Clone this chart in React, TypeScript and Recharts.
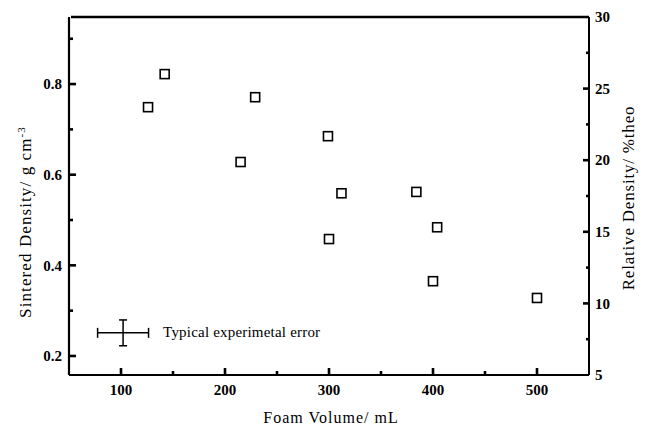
import React from 'react';
import { ScatterChart, Scatter, XAxis, YAxis, ErrorBar } from 'recharts';

const foamVolume = [126, 142, 215, 229, 299, 300, 312, 384, 404, 400, 500];
const sinteredDensity = [0.749, 0.822, 0.628, 0.771, 0.685, 0.458, 0.559, 0.562, 0.484, 0.365, 0.328];

const errorX = [102];
const errorY = [0.251];
const errorHalfX = [24.5];
const errorHalfY = [0.0285];
const errorText = 'Typical experimetal error';

const xTicks = [100, 150, 200, 250, 300, 350, 400, 450, 500];
const xMajor = [100, 200, 300, 400, 500];
const leftTicks = [0.2, 0.3, 0.4, 0.5, 0.6, 0.7, 0.8, 0.9];
const leftMajor = [0.2, 0.4, 0.6, 0.8];
const rightTicks = [5, 7.5, 10, 12.5, 15, 17.5, 20, 22.5, 25, 27.5, 30];
const rightMajor = [5, 10, 15, 20, 25, 30];

const xDomain = [50, 550];
const leftDomain = [0.158, 0.948];
const rightDomain = [5, 30];

const data = foamVolume.map((v, i) => ({ x: v, y: sinteredDensity[i] }));
const errData = errorX.map((v, i) => ({ x: v, y: errorY[i], ex: errorHalfX[i], ey: errorHalfY[i] }));

const FONT = '"Liberation Serif", "Times New Roman", serif';
const TM = 7;
const TW = 2.6;
const PLOT_W = 518;

const BottomTick = (p: any) => {
  const { x, y, payload } = p;
  const major = xMajor.includes(payload.value);
  const ay = y - TM;
  return (
    <g>
      <line x1={x} x2={x} y1={ay} y2={ay - (major ? 7 : 4)} stroke="#000" strokeWidth={TW} />
      {major && (
        <text x={x} y={ay + 20} textAnchor="middle" fontFamily={FONT} fontSize={15} fontWeight="bold" fill="#000">
          {payload.value}
        </text>
      )}
    </g>
  );
};

const LeftTick = (p: any) => {
  const { x, y, payload } = p;
  const major = leftMajor.some((m) => Math.abs(m - payload.value) < 1e-9);
  const ax = x + TM;
  return (
    <g>
      <line x1={ax} x2={ax + (major ? 7 : 4)} y1={y} y2={y} stroke="#000" strokeWidth={TW} />
      {major && (
        <text x={x} y={y} dy="0.35em" textAnchor="end" fontFamily={FONT} fontSize={15} fontWeight="bold" fill="#000">
          {payload.value.toFixed(1)}
        </text>
      )}
    </g>
  );
};

const RightTick = (p: any) => {
  const { x, y, payload } = p;
  const major = rightMajor.includes(payload.value);
  const ax = x - TM;
  return (
    <g>
      {payload.value !== 5 && payload.value !== 30 && (
        <line x1={ax} x2={ax - (major ? 6 : 3)} y1={y} y2={y} stroke="#000" strokeWidth={TW} />
      )}
      {payload.value === 30 && (
        <line x1={ax} x2={ax - PLOT_W} y1={y} y2={y} stroke="#000" strokeWidth={2.6} />
      )}
      {major && (
        <text x={ax + 6} y={y} dy="0.35em" textAnchor="start" fontFamily={FONT} fontSize={15} fontWeight="bold" fill="#000">
          {payload.value}
        </text>
      )}
    </g>
  );
};

const SquareShape = (p: any) => {
  const { cx, cy } = p;
  if (cx == null || cy == null) return <g />;
  return <rect x={cx - 4.5} y={cy - 4.5} width={9} height={9} fill="#fff" stroke="#000" strokeWidth={1.6} />;
};

const ErrShape = (p: any) => {
  const { cx, cy } = p;
  if (cx == null || cy == null) return <g />;
  return (
    <text x={cx + 40} y={cy + 4.5} fontFamily={FONT} fontSize={15} letterSpacing={0.2} fill="#000">
      {errorText}
    </text>
  );
};

const XLabel = (p: any) => {
  const vb = p.viewBox || {};
  return (
    <text x={vb.x + vb.width / 2 + 2} y={vb.y + 48} textAnchor="middle" fontFamily={FONT} fontSize={16} letterSpacing={1} fill="#000">
      Foam Volume/ mL
    </text>
  );
};

const LeftLabel = (p: any) => {
  const vb = p.viewBox || {};
  const cx = vb.x + 22;
  const cy = vb.y + vb.height / 2 + 26;
  return (
    <text x={cx} y={cy} transform={`rotate(-90 ${cx} ${cy})`} textAnchor="middle" fontFamily={FONT} fontSize={17} letterSpacing={1.1} fill="#000">
      Sintered Density/ g cm<tspan dy={-6} fontSize={11}>-3</tspan>
    </text>
  );
};

const RightLabel = (p: any) => {
  const vb = p.viewBox || {};
  const cx = vb.x + 45;
  const cy = vb.y + vb.height / 2 + 2;
  return (
    <text x={cx} y={cy} transform={`rotate(-90 ${cx} ${cy})`} textAnchor="middle" fontFamily={FONT} fontSize={17} letterSpacing={0.8} fill="#000">
      Relative Density/ %theo
    </text>
  );
};

export default function App() {
  return (
    <div style={{ position: 'absolute', left: 0, top: 0, background: '#fff' }}>
      <ScatterChart width={652} height={426} margin={{ top: 17, right: 13, bottom: 11, left: 9 }}>
        <XAxis
          xAxisId="bottom"
          dataKey="x"
          type="number"
          domain={xDomain}
          ticks={xTicks}
          interval={0}
          allowDataOverflow
          height={40}
          tickSize={0}
          tickLine={false}
          tickMargin={TM}
          tick={<BottomTick />}
          axisLine={{ stroke: '#000', strokeWidth: 2.2 }}
          label={<XLabel />}
        />
        <YAxis
          yAxisId="left"
          dataKey="y"
          type="number"
          domain={leftDomain}
          ticks={leftTicks}
          interval={0}
          allowDataOverflow
          width={60}
          tickSize={0}
          tickLine={false}
          tickMargin={TM}
          tick={<LeftTick />}
          axisLine={{ stroke: '#000', strokeWidth: 2.2 }}
          label={<LeftLabel />}
        />
        <YAxis
          yAxisId="right"
          orientation="right"
          type="number"
          domain={rightDomain}
          ticks={rightTicks}
          interval={0}
          allowDataOverflow
          width={50}
          tickSize={0}
          tickLine={false}
          tickMargin={TM}
          tick={<RightTick />}
          axisLine={{ stroke: '#000', strokeWidth: 2 }}
          label={<RightLabel />}
        />
        <Scatter xAxisId="bottom" yAxisId="left" data={data} shape={<SquareShape />} isAnimationActive={false} />
        <Scatter xAxisId="bottom" yAxisId="left" data={errData} shape={<ErrShape />} isAnimationActive={false}>
          <ErrorBar dataKey="ex" direction="x" width={5} stroke="#000" strokeWidth={1.5} />
          <ErrorBar dataKey="ey" direction="y" width={4} stroke="#000" strokeWidth={1.5} />
        </Scatter>
      </ScatterChart>
    </div>
  );
}
